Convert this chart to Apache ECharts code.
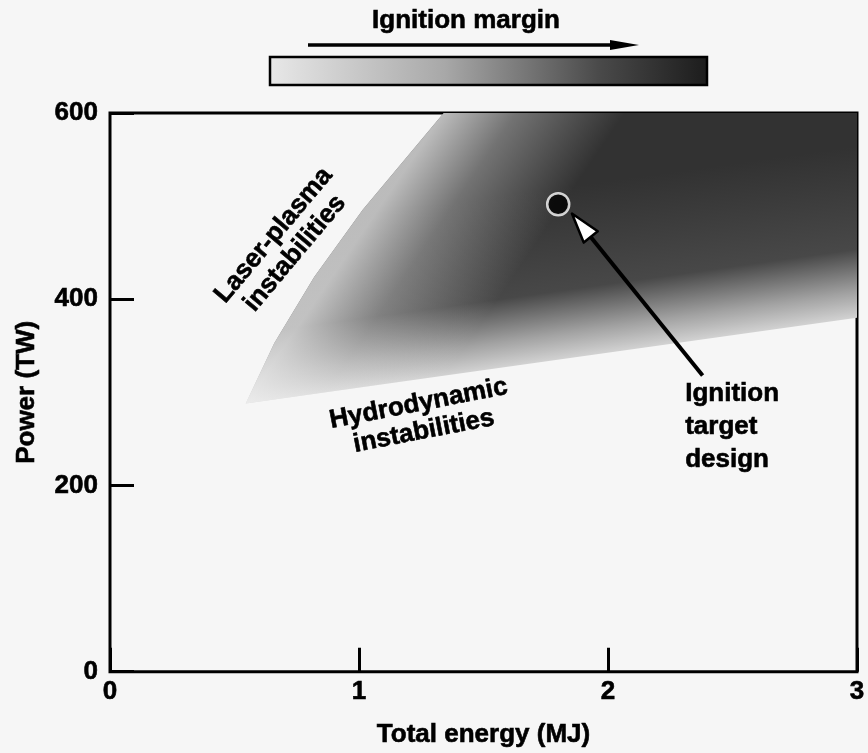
<!DOCTYPE html>
<html><head><meta charset="utf-8">
<script src="https://cdn.jsdelivr.net/npm/echarts@6/dist/echarts.min.js"></script>
<style>html,body{margin:0;padding:0;background:#f6f6f6}#c{width:868px;height:753px}</style>
</head><body><div id="c"></div>
<script>
// ---- data (Total energy in MJ, Power in TW) ----
const xTickValues = [0, 1, 2, 3];
const yTickValues = [0, 200, 400, 600];
// boundary of the shaded ignition window (upper-left edge, top, right edge)
const regionEnergy = [0.545, 0.66, 0.82, 1.015, 1.34, 3.0, 3.0];
const regionPower  = [288, 353, 424, 496, 600, 600, 380];
// ignition target design point
const targetEnergy = [1.8];
const targetPower  = [502];
// annotation arrow (from label to target)
const arrowEnergy = [2.38, 1.855];
const arrowPower  = [318, 492];
// in-plot labels
const labelTexts  = ['Laser-plasma\ninstabilities', 'Hydrodynamic\ninstabilities', 'Ignition\ntarget\ndesign'];
const labelEnergy = [0.70, 1.25, 2.31];
const labelPower  = [459, 273, 263];
const labelRotate = [50, 11, 0];
const labelAlign  = ['center', 'center', 'left'];

const FONT = '"Liberation Sans", Arial, sans-serif';
const FS = 26;
const chart = echarts.init(document.getElementById('c'), null, {renderer: 'canvas'});

const regionData = regionEnergy.map((e, i) => [e, regionPower[i]]);
const targetData = targetEnergy.map((e, i) => [e, targetPower[i]]);
const arrowData = [[arrowEnergy[0], arrowPower[0], arrowEnergy[1], arrowPower[1]]];

function unitNormal(a, b, towards) {
  const dx = b[0] - a[0], dy = b[1] - a[1];
  const L = Math.hypot(dx, dy);
  let nx = -dy / L, ny = dx / L;
  const mx = (a[0] + b[0]) / 2, my = (a[1] + b[1]) / 2;
  if ((towards[0] - mx) * nx + (towards[1] - my) * ny < 0) { nx = -nx; ny = -ny; }
  return [mx, my, nx, ny];
}

function regionRender(params, api) {
  if (params.dataIndex !== 0) return;
  const pts = regionData.map(d => api.coord(d));
  const n = pts.length;
  const tip = pts[0], topL = pts[4], rb = pts[n - 1], tr = pts[5];
  // darkening away from the lower edge
  const [mx, my, nx, ny] = unitNormal(tip, rb, tr);
  const base = new echarts.graphic.LinearGradient(mx, my, mx + nx * 170, my + ny * 170, [
    {offset: 0, color: '#d2d2d2'},
    {offset: 0.15, color: '#a2a2a2'},
    {offset: 0.4, color: '#484848'},
    {offset: 1, color: '#323232'}
  ], true);
  // lightening near the upper-left edge
  const [ux, uy, vx, vy] = unitNormal(tip, topL, rb);
  const fade = new echarts.graphic.LinearGradient(ux, uy, ux + vx * 150, uy + vy * 150, [
    {offset: 0, color: 'rgba(246,246,246,0.7)'},
    {offset: 0.4, color: 'rgba(246,246,246,0.33)'},
    {offset: 1, color: 'rgba(246,246,246,0)'}
  ], true);
  return {
    type: 'group',
    children: [
      {type: 'polygon', shape: {points: pts}, style: {fill: base}},
      {type: 'polygon', shape: {points: pts}, style: {fill: fade}}
    ]
  };
}

function arrowRender(params, api) {
  const p0 = api.coord([api.value(0), api.value(1)]);
  const p1 = api.coord([api.value(2), api.value(3)]);
  const dx = p1[0] - p0[0], dy = p1[1] - p0[1];
  const L = Math.hypot(dx, dy), ux = dx / L, uy = dy / L;
  const hl = 30, hw = 9;
  const bx = p1[0] - ux * hl, by = p1[1] - uy * hl;
  return {
    type: 'group',
    children: [
      {type: 'line', shape: {x1: p0[0], y1: p0[1], x2: bx, y2: by}, style: {stroke: '#000', lineWidth: 4}},
      {type: 'polygon', shape: {points: [[p1[0], p1[1]], [bx - uy * hw, by + ux * hw], [bx + uy * hw, by - ux * hw]]},
       style: {fill: '#fff', stroke: '#000', lineWidth: 2.5, lineJoin: 'round'}}
    ]
  };
}

const textStyle = {color: '#000', fontFamily: FONT, fontWeight: 'bold', fontSize: FS, textBorderColor: '#000', textBorderWidth: 0.6};

chart.setOption({
  backgroundColor: '#f6f6f6',
  animation: false,
  grid: {left: 110, right: 11, top: 113, bottom: 81, show: true, borderColor: '#000', borderWidth: 3, backgroundColor: 'transparent'},
  xAxis: {
    type: 'value', min: 0, max: 3, interval: 1,
    name: 'Total energy (MJ)', nameLocation: 'middle', nameGap: 50,
    nameTextStyle: textStyle,
    axisLine: {show: false},
    axisTick: {show: true, inside: true, length: 24, lineStyle: {color: '#000', width: 3}},
    splitLine: {show: false},
    axisLabel: Object.assign({margin: 7, formatter: v => xTickValues.includes(v) ? String(v) : ''}, textStyle)
  },
  yAxis: {
    type: 'value', min: 0, max: 600, interval: 200,
    name: 'Power (TW)', nameLocation: 'middle', nameGap: 70, nameRotate: 90,
    nameTextStyle: textStyle,
    axisLine: {show: false},
    axisTick: {show: true, inside: true, length: 24, lineStyle: {color: '#000', width: 3}},
    splitLine: {show: false},
    axisLabel: Object.assign({margin: 12, formatter: v => yTickValues.includes(v) ? String(v) : ''}, textStyle)
  },
  series: [
    {type: 'custom', renderItem: regionRender, data: regionData, z: 1, silent: true},
    {type: 'custom', renderItem: arrowRender, data: arrowData, z: 3, silent: true},
    {type: 'scatter', data: targetData, symbol: 'circle', symbolSize: 22, z: 4,
     itemStyle: {color: '#000', borderColor: '#fff', borderWidth: 2.5}}
  ]
});

// annotations
const font = 'bold ' + FS + 'px ' + FONT;
const g = [];
labelTexts.forEach((t, i) => {
  const p = chart.convertToPixel({gridIndex: 0}, [labelEnergy[i], labelPower[i]]);
  g.push({type: 'text', x: p[0], y: p[1], rotation: labelRotate[i] * Math.PI / 180, z: 10,
    style: {text: t, fill: '#000', stroke: '#000', lineWidth: 0.6, font: font, align: labelAlign[i], verticalAlign: 'middle', lineHeight: labelAlign[i] === 'left' ? 33 : 28}});
});
// top "Ignition margin" indicator
g.push({type: 'text', x: 466, y: 21, z: 10, style: {text: 'Ignition margin', fill: '#000', stroke: '#000', lineWidth: 0.6, font: font, align: 'center', verticalAlign: 'middle'}});
g.push({type: 'line', shape: {x1: 308, y1: 45, x2: 615, y2: 45}, style: {stroke: '#000', lineWidth: 3.5}});
g.push({type: 'polygon', shape: {points: [[610, 40], [639, 45], [610, 50]]}, style: {fill: '#000'}});
g.push({type: 'rect', shape: {x: 270, y: 57, width: 437, height: 28},
  style: {stroke: '#000', lineWidth: 2.5,
    fill: new echarts.graphic.LinearGradient(0, 0, 1, 0, [
      {offset: 0, color: '#e8e8e8'}, {offset: 0.4, color: '#a8a8a8'},
      {offset: 0.75, color: '#4a4a4a'}, {offset: 1, color: '#1c1c1c'}])}});
chart.setOption({graphic: g});
</script>
</body></html>
